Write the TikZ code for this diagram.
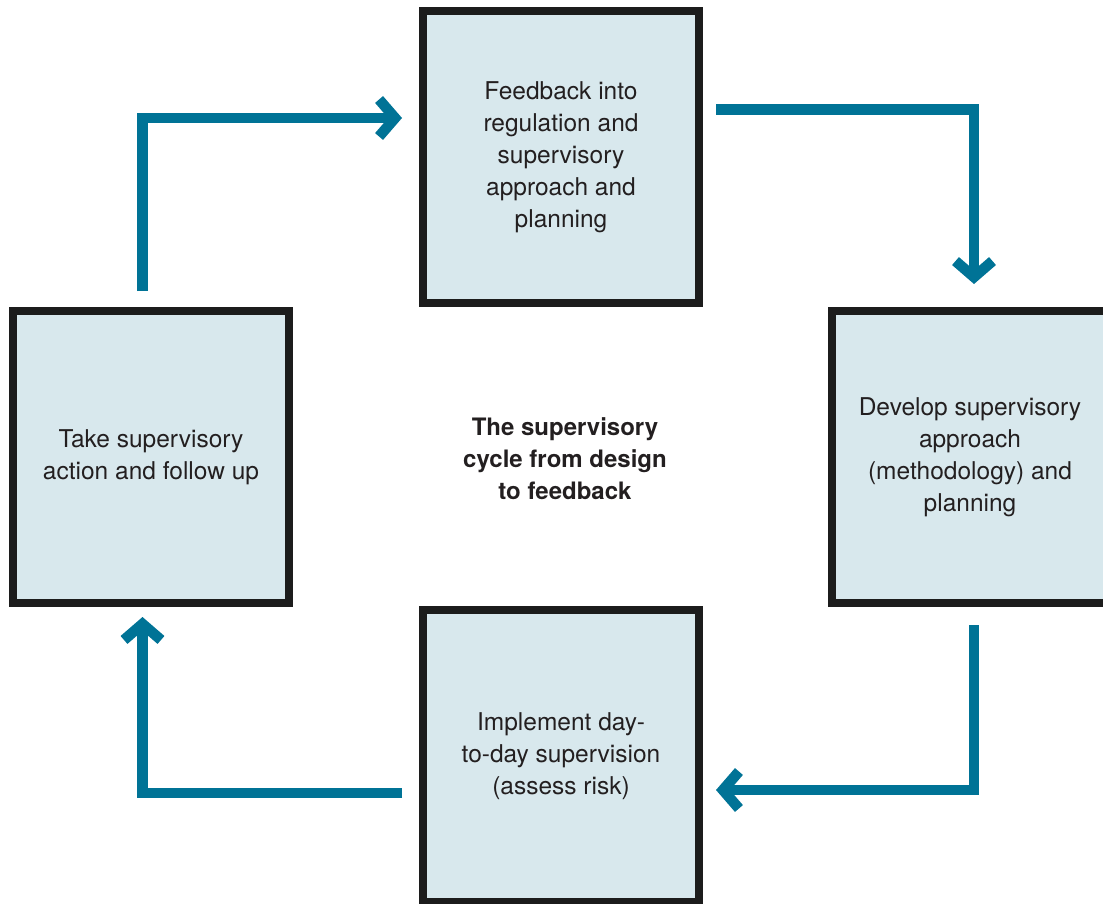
\documentclass[tikz,border=0pt]{standalone}
\usepackage{fontspec}
\setmainfont{TeX Gyre Heros}
\usetikzlibrary{arrows.meta}
\definecolor{flowblue}{RGB}{0,115,150}
\definecolor{boxfill}{RGB}{216,232,237}
\definecolor{boxline}{RGB}{28,28,28}
\definecolor{inktext}{RGB}{35,31,32}
\tikzset{
  stagebox/.style={draw=boxline, line width=8pt, fill=boxfill,
    minimum width=276pt, minimum height=292pt, inner sep=0pt,
    align=center, text=inktext,
    font=\fontsize{24.5}{32}\selectfont},
  flow/.style={draw=flowblue, line width=10.5pt, line join=miter,
    -{Straight Barb[sharp, length=16pt, width=37pt]}},
  title/.style={align=center, text=inktext,
    font=\fontsize{24}{32}\selectfont\bfseries}
}
\begin{document}
\begin{tikzpicture}[x=1pt,y=-1pt]
\useasboundingbox (0,0) rectangle (1103,903);
% the four stages of the cycle
\node[stagebox] (feedback) at (561,157)
  {Feedback into\\regulation and\\supervisory\\approach and\\planning};
\node[stagebox] (develop) at (970,457)
  {Develop supervisory\\approach\\(methodology) and\\planning};
\node[stagebox] (implement) at (561,756)
  {Implement day-\\to-day supervision\\(assess risk)};
\node[stagebox] (action) at (151,457)
  {Take supervisory\\action and follow up};
% centre caption
\node[title] (caption) at (565,459)
  {The supervisory\\cycle from design\\to feedback};
% connectors running clockwise
\draw[flow] ([xshift=-8.5pt,yshift=16pt]action.north)
  |- ([xshift=-17pt,yshift=39pt]feedback.west);
\draw[flow] ([xshift=13pt,yshift=47.5pt]feedback.east)
  -| ([xshift=4pt,yshift=23pt]develop.north);
\draw[flow] ([xshift=4pt,yshift=-18pt]develop.south)
  |- ([xshift=13pt,yshift=-34pt]implement.east);
\draw[flow] ([xshift=-17pt,yshift=-37pt]implement.west)
  -| ([xshift=-8.5pt,yshift=-10pt]action.south);
\end{tikzpicture}
\end{document}
